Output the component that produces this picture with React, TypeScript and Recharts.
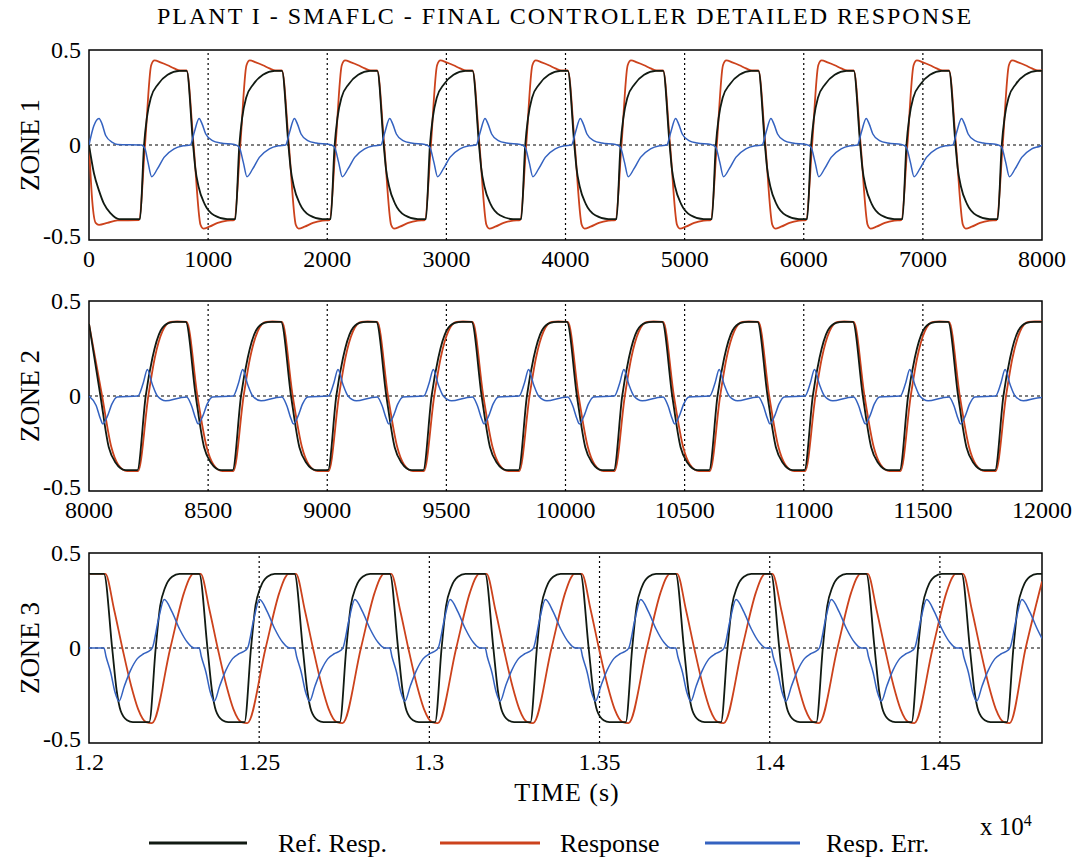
import { LineChart, Line, XAxis, YAxis, ReferenceLine, ReferenceArea } from "recharts";

type Pt = [number, number];

const serif = "Liberation Serif, Times New Roman, serif";
const C_REF = "#111a12";
const C_RESP = "#cc421c";
const C_ERR = "#3462c0";

// ---- ZONE 1 (0 .. 8000 s) ----
const z1Ticks = [0, 1000, 2000, 3000, 4000, 5000, 6000, 7000, 8000];
const z1Ref: Pt[] = [
  [0, 0], [42, -0.15], [84, -0.24], [126, -0.31], [182, -0.36], [252, -0.39], [428, -0.39], [462, 0], [485, 0.14], [520, 0.25], [580, 0.32], [660, 0.37], [760, 0.39],
  [820, 0.39], [874, 0], [892, -0.12], [920, -0.22], [970, -0.31], [1050, -0.37], [1160, -0.39], [1228, -0.39], [1262, 0], [1285, 0.14], [1320, 0.25], [1380, 0.32], [1460, 0.37], [1560, 0.39],
  [1620, 0.39], [1674, 0], [1692, -0.12], [1720, -0.22], [1770, -0.31], [1850, -0.37], [1960, -0.39], [2028, -0.39], [2062, 0], [2085, 0.14], [2120, 0.25], [2180, 0.32], [2260, 0.37], [2360, 0.39],
  [2420, 0.39], [2474, 0], [2492, -0.12], [2520, -0.22], [2570, -0.31], [2650, -0.37], [2760, -0.39], [2828, -0.39], [2862, 0], [2885, 0.14], [2920, 0.25], [2980, 0.32], [3060, 0.37], [3160, 0.39],
  [3220, 0.39], [3274, 0], [3292, -0.12], [3320, -0.22], [3370, -0.31], [3450, -0.37], [3560, -0.39], [3628, -0.39], [3662, 0], [3685, 0.14], [3720, 0.25], [3780, 0.32], [3860, 0.37], [3960, 0.39],
  [4020, 0.39], [4074, 0], [4092, -0.12], [4120, -0.22], [4170, -0.31], [4250, -0.37], [4360, -0.39], [4428, -0.39], [4462, 0], [4485, 0.14], [4520, 0.25], [4580, 0.32], [4660, 0.37], [4760, 0.39],
  [4820, 0.39], [4874, 0], [4892, -0.12], [4920, -0.22], [4970, -0.31], [5050, -0.37], [5160, -0.39], [5228, -0.39], [5262, 0], [5285, 0.14], [5320, 0.25], [5380, 0.32], [5460, 0.37], [5560, 0.39],
  [5620, 0.39], [5674, 0], [5692, -0.12], [5720, -0.22], [5770, -0.31], [5850, -0.37], [5960, -0.39], [6028, -0.39], [6062, 0], [6085, 0.14], [6120, 0.25], [6180, 0.32], [6260, 0.37], [6360, 0.39],
  [6420, 0.39], [6474, 0], [6492, -0.12], [6520, -0.22], [6570, -0.31], [6650, -0.37], [6760, -0.39], [6828, -0.39], [6862, 0], [6885, 0.14], [6920, 0.25], [6980, 0.32], [7060, 0.37], [7160, 0.39],
  [7220, 0.39], [7274, 0], [7292, -0.12], [7320, -0.22], [7370, -0.31], [7450, -0.37], [7560, -0.39], [7628, -0.39], [7662, 0], [7685, 0.14], [7720, 0.25], [7780, 0.32], [7860, 0.37], [7960, 0.39],
  [8000, 0.39],
];
const z1Resp: Pt[] = [
  [0, 0], [28, -0.3], [56, -0.41], [84, -0.42], [154, -0.41], [238, -0.397], [420, -0.395], [470, 0], [522, 0.42], [550, 0.445], [600, 0.435], [660, 0.42], [715, 0.403], [765, 0.392],
  [820, 0.392], [878, 0], [936, -0.42], [960, -0.44], [1010, -0.43], [1080, -0.41], [1160, -0.398], [1220, -0.395], [1270, 0], [1322, 0.42], [1350, 0.445], [1400, 0.435], [1460, 0.42], [1515, 0.403], [1565, 0.392],
  [1620, 0.392], [1678, 0], [1736, -0.42], [1760, -0.44], [1810, -0.43], [1880, -0.41], [1960, -0.398], [2020, -0.395], [2070, 0], [2122, 0.42], [2150, 0.445], [2200, 0.435], [2260, 0.42], [2315, 0.403], [2365, 0.392],
  [2420, 0.392], [2478, 0], [2536, -0.42], [2560, -0.44], [2610, -0.43], [2680, -0.41], [2760, -0.398], [2820, -0.395], [2870, 0], [2922, 0.42], [2950, 0.445], [3000, 0.435], [3060, 0.42], [3115, 0.403], [3165, 0.392],
  [3220, 0.392], [3278, 0], [3336, -0.42], [3360, -0.44], [3410, -0.43], [3480, -0.41], [3560, -0.398], [3620, -0.395], [3670, 0], [3722, 0.42], [3750, 0.445], [3800, 0.435], [3860, 0.42], [3915, 0.403], [3965, 0.392],
  [4020, 0.392], [4078, 0], [4136, -0.42], [4160, -0.44], [4210, -0.43], [4280, -0.41], [4360, -0.398], [4420, -0.395], [4470, 0], [4522, 0.42], [4550, 0.445], [4600, 0.435], [4660, 0.42], [4715, 0.403], [4765, 0.392],
  [4820, 0.392], [4878, 0], [4936, -0.42], [4960, -0.44], [5010, -0.43], [5080, -0.41], [5160, -0.398], [5220, -0.395], [5270, 0], [5322, 0.42], [5350, 0.445], [5400, 0.435], [5460, 0.42], [5515, 0.403], [5565, 0.392],
  [5620, 0.392], [5678, 0], [5736, -0.42], [5760, -0.44], [5810, -0.43], [5880, -0.41], [5960, -0.398], [6020, -0.395], [6070, 0], [6122, 0.42], [6150, 0.445], [6200, 0.435], [6260, 0.42], [6315, 0.403], [6365, 0.392],
  [6420, 0.392], [6478, 0], [6536, -0.42], [6560, -0.44], [6610, -0.43], [6680, -0.41], [6760, -0.398], [6820, -0.395], [6870, 0], [6922, 0.42], [6950, 0.445], [7000, 0.435], [7060, 0.42], [7115, 0.403], [7165, 0.392],
  [7220, 0.392], [7278, 0], [7336, -0.42], [7360, -0.44], [7410, -0.43], [7480, -0.41], [7560, -0.398], [7620, -0.395], [7670, 0], [7722, 0.42], [7750, 0.445], [7800, 0.435], [7860, 0.42], [7915, 0.403], [7965, 0.392],
  [8000, 0.392],
];
const z1Err: Pt[] = [
  [0, 0], [40, 0.1], [84, 0.14], [110, 0.11], [140, 0.05], [196, 0.014], [240, 0.003], [440, 0], [470, -0.02], [495, -0.09], [526, -0.167], [574, -0.126], [630, -0.065], [714, -0.02], [790, -0.004],
  [850, 0], [885, 0.07], [924, 0.14], [950, 0.11], [980, 0.058], [1036, 0.023], [1106, 0.01], [1220, 0.003], [1260, -0.01], [1295, -0.09], [1326, -0.167], [1374, -0.126], [1430, -0.065], [1514, -0.02], [1590, -0.004],
  [1650, 0], [1685, 0.07], [1724, 0.14], [1750, 0.11], [1780, 0.058], [1836, 0.023], [1906, 0.01], [2020, 0.003], [2060, -0.01], [2095, -0.09], [2126, -0.167], [2174, -0.126], [2230, -0.065], [2314, -0.02], [2390, -0.004],
  [2450, 0], [2485, 0.07], [2524, 0.14], [2550, 0.11], [2580, 0.058], [2636, 0.023], [2706, 0.01], [2820, 0.003], [2860, -0.01], [2895, -0.09], [2926, -0.167], [2974, -0.126], [3030, -0.065], [3114, -0.02], [3190, -0.004],
  [3250, 0], [3285, 0.07], [3324, 0.14], [3350, 0.11], [3380, 0.058], [3436, 0.023], [3506, 0.01], [3620, 0.003], [3660, -0.01], [3695, -0.09], [3726, -0.167], [3774, -0.126], [3830, -0.065], [3914, -0.02], [3990, -0.004],
  [4050, 0], [4085, 0.07], [4124, 0.14], [4150, 0.11], [4180, 0.058], [4236, 0.023], [4306, 0.01], [4420, 0.003], [4460, -0.01], [4495, -0.09], [4526, -0.167], [4574, -0.126], [4630, -0.065], [4714, -0.02], [4790, -0.004],
  [4850, 0], [4885, 0.07], [4924, 0.14], [4950, 0.11], [4980, 0.058], [5036, 0.023], [5106, 0.01], [5220, 0.003], [5260, -0.01], [5295, -0.09], [5326, -0.167], [5374, -0.126], [5430, -0.065], [5514, -0.02], [5590, -0.004],
  [5650, 0], [5685, 0.07], [5724, 0.14], [5750, 0.11], [5780, 0.058], [5836, 0.023], [5906, 0.01], [6020, 0.003], [6060, -0.01], [6095, -0.09], [6126, -0.167], [6174, -0.126], [6230, -0.065], [6314, -0.02], [6390, -0.004],
  [6450, 0], [6485, 0.07], [6524, 0.14], [6550, 0.11], [6580, 0.058], [6636, 0.023], [6706, 0.01], [6820, 0.003], [6860, -0.01], [6895, -0.09], [6926, -0.167], [6974, -0.126], [7030, -0.065], [7114, -0.02], [7190, -0.004],
  [7250, 0], [7285, 0.07], [7324, 0.14], [7350, 0.11], [7380, 0.058], [7436, 0.023], [7506, 0.01], [7620, 0.003], [7660, -0.01], [7695, -0.09], [7726, -0.167], [7774, -0.126], [7830, -0.065], [7914, -0.02], [7990, -0.004],
  [8000, 0],
];

// ---- ZONE 2 (8000 .. 12000 s) ----
const z2Ticks = [8000, 8500, 9000, 9500, 10000, 10500, 11000, 11500, 12000];
const z2Ref: Pt[] = [
  [8000, 0.38], [8048, 0], [8083, -0.27], [8111, -0.35], [8153, -0.39], [8203, -0.39], [8238, 0], [8266, 0.2], [8301, 0.345], [8336, 0.385], [8365, 0.39],
  [8406, 0.39], [8448, 0], [8483, -0.27], [8511, -0.35], [8553, -0.39], [8603, -0.39], [8638, 0], [8666, 0.2], [8701, 0.345], [8736, 0.385], [8765, 0.39],
  [8806, 0.39], [8848, 0], [8883, -0.27], [8911, -0.35], [8953, -0.39], [9003, -0.39], [9038, 0], [9066, 0.2], [9101, 0.345], [9136, 0.385], [9165, 0.39],
  [9206, 0.39], [9248, 0], [9283, -0.27], [9311, -0.35], [9353, -0.39], [9403, -0.39], [9438, 0], [9466, 0.2], [9501, 0.345], [9536, 0.385], [9565, 0.39],
  [9606, 0.39], [9648, 0], [9683, -0.27], [9711, -0.35], [9753, -0.39], [9803, -0.39], [9838, 0], [9866, 0.2], [9901, 0.345], [9936, 0.385], [9965, 0.39],
  [10006, 0.39], [10048, 0], [10083, -0.27], [10111, -0.35], [10153, -0.39], [10203, -0.39], [10238, 0], [10266, 0.2], [10301, 0.345], [10336, 0.385], [10365, 0.39],
  [10406, 0.39], [10448, 0], [10483, -0.27], [10511, -0.35], [10553, -0.39], [10603, -0.39], [10638, 0], [10666, 0.2], [10701, 0.345], [10736, 0.385], [10765, 0.39],
  [10806, 0.39], [10848, 0], [10883, -0.27], [10911, -0.35], [10953, -0.39], [11003, -0.39], [11038, 0], [11066, 0.2], [11101, 0.345], [11136, 0.385], [11165, 0.39],
  [11206, 0.39], [11248, 0], [11283, -0.27], [11311, -0.35], [11353, -0.39], [11403, -0.39], [11438, 0], [11466, 0.2], [11501, 0.345], [11536, 0.385], [11565, 0.39],
  [11606, 0.39], [11648, 0], [11683, -0.27], [11711, -0.35], [11753, -0.39], [11803, -0.39], [11838, 0], [11866, 0.2], [11901, 0.345], [11936, 0.385], [11965, 0.39],
  [12000, 0.39],
];
const z2Resp: Pt[] = [
  [8000, 0.38], [8055, 0], [8094, -0.27], [8122, -0.36], [8160, -0.395], [8206, -0.395], [8249, 0], [8276, 0.2], [8308, 0.34], [8343, 0.39], [8370, 0.392],
  [8410, 0.39], [8455, 0], [8494, -0.27], [8522, -0.36], [8560, -0.395], [8606, -0.395], [8649, 0], [8676, 0.2], [8708, 0.34], [8743, 0.39], [8770, 0.392],
  [8810, 0.39], [8855, 0], [8894, -0.27], [8922, -0.36], [8960, -0.395], [9006, -0.395], [9049, 0], [9076, 0.2], [9108, 0.34], [9143, 0.39], [9170, 0.392],
  [9210, 0.39], [9255, 0], [9294, -0.27], [9322, -0.36], [9360, -0.395], [9406, -0.395], [9449, 0], [9476, 0.2], [9508, 0.34], [9543, 0.39], [9570, 0.392],
  [9610, 0.39], [9655, 0], [9694, -0.27], [9722, -0.36], [9760, -0.395], [9806, -0.395], [9849, 0], [9876, 0.2], [9908, 0.34], [9943, 0.39], [9970, 0.392],
  [10010, 0.39], [10055, 0], [10094, -0.27], [10122, -0.36], [10160, -0.395], [10206, -0.395], [10249, 0], [10276, 0.2], [10308, 0.34], [10343, 0.39], [10370, 0.392],
  [10410, 0.39], [10455, 0], [10494, -0.27], [10522, -0.36], [10560, -0.395], [10606, -0.395], [10649, 0], [10676, 0.2], [10708, 0.34], [10743, 0.39], [10770, 0.392],
  [10810, 0.39], [10855, 0], [10894, -0.27], [10922, -0.36], [10960, -0.395], [11006, -0.395], [11049, 0], [11076, 0.2], [11108, 0.34], [11143, 0.39], [11170, 0.392],
  [11210, 0.39], [11255, 0], [11294, -0.27], [11322, -0.36], [11360, -0.395], [11406, -0.395], [11449, 0], [11476, 0.2], [11508, 0.34], [11543, 0.39], [11570, 0.392],
  [11610, 0.39], [11655, 0], [11694, -0.27], [11722, -0.36], [11760, -0.395], [11806, -0.395], [11849, 0], [11876, 0.2], [11908, 0.34], [11943, 0.39], [11970, 0.392],
  [12000, 0.392],
];
const z2Err: Pt[] = [
  [8000, 0], [8030, -0.05], [8048, -0.12], [8058, -0.147], [8076, -0.11], [8097, -0.04], [8118, -0.005], [8205, 0], [8228, 0.07], [8245, 0.14], [8266, 0.06], [8287, 0], [8322, -0.025], [8380, -0.01],
  [8410, -0.005], [8430, -0.05], [8448, -0.12], [8458, -0.147], [8476, -0.11], [8497, -0.04], [8518, -0.005], [8605, 0], [8628, 0.07], [8645, 0.14], [8666, 0.06], [8687, 0], [8722, -0.025], [8780, -0.01],
  [8810, -0.005], [8830, -0.05], [8848, -0.12], [8858, -0.147], [8876, -0.11], [8897, -0.04], [8918, -0.005], [9005, 0], [9028, 0.07], [9045, 0.14], [9066, 0.06], [9087, 0], [9122, -0.025], [9180, -0.01],
  [9210, -0.005], [9230, -0.05], [9248, -0.12], [9258, -0.147], [9276, -0.11], [9297, -0.04], [9318, -0.005], [9405, 0], [9428, 0.07], [9445, 0.14], [9466, 0.06], [9487, 0], [9522, -0.025], [9580, -0.01],
  [9610, -0.005], [9630, -0.05], [9648, -0.12], [9658, -0.147], [9676, -0.11], [9697, -0.04], [9718, -0.005], [9805, 0], [9828, 0.07], [9845, 0.14], [9866, 0.06], [9887, 0], [9922, -0.025], [9980, -0.01],
  [10010, -0.005], [10030, -0.05], [10048, -0.12], [10058, -0.147], [10076, -0.11], [10097, -0.04], [10118, -0.005], [10205, 0], [10228, 0.07], [10245, 0.14], [10266, 0.06], [10287, 0], [10322, -0.025], [10380, -0.01],
  [10410, -0.005], [10430, -0.05], [10448, -0.12], [10458, -0.147], [10476, -0.11], [10497, -0.04], [10518, -0.005], [10605, 0], [10628, 0.07], [10645, 0.14], [10666, 0.06], [10687, 0], [10722, -0.025], [10780, -0.01],
  [10810, -0.005], [10830, -0.05], [10848, -0.12], [10858, -0.147], [10876, -0.11], [10897, -0.04], [10918, -0.005], [11005, 0], [11028, 0.07], [11045, 0.14], [11066, 0.06], [11087, 0], [11122, -0.025], [11180, -0.01],
  [11210, -0.005], [11230, -0.05], [11248, -0.12], [11258, -0.147], [11276, -0.11], [11297, -0.04], [11318, -0.005], [11405, 0], [11428, 0.07], [11445, 0.14], [11466, 0.06], [11487, 0], [11522, -0.025], [11580, -0.01],
  [11610, -0.005], [11630, -0.05], [11648, -0.12], [11658, -0.147], [11676, -0.11], [11697, -0.04], [11718, -0.005], [11805, 0], [11828, 0.07], [11845, 0.14], [11866, 0.06], [11887, 0], [11922, -0.025], [11980, -0.01],
  [12000, -0.008],
];

// ---- ZONE 3 (12000 .. 14800 s, axis shown x 10^4) ----
const z3Ticks = [12000, 12500, 13000, 13500, 14000, 14500];
const z3Ref: Pt[] = [
  [12000, 0.39],
  [12044, 0.39], [12068, 0], [12081, -0.22], [12093, -0.33], [12112, -0.38], [12129, -0.39], [12177, -0.39], [12196, 0], [12209, 0.22], [12224, 0.32], [12244, 0.375], [12266, 0.39],
  [12324, 0.39], [12348, 0], [12361, -0.22], [12373, -0.33], [12392, -0.38], [12409, -0.39], [12457, -0.39], [12476, 0], [12489, 0.22], [12504, 0.32], [12524, 0.375], [12546, 0.39],
  [12604, 0.39], [12628, 0], [12641, -0.22], [12653, -0.33], [12672, -0.38], [12689, -0.39], [12737, -0.39], [12756, 0], [12769, 0.22], [12784, 0.32], [12804, 0.375], [12826, 0.39],
  [12884, 0.39], [12908, 0], [12921, -0.22], [12933, -0.33], [12952, -0.38], [12969, -0.39], [13017, -0.39], [13036, 0], [13049, 0.22], [13064, 0.32], [13084, 0.375], [13106, 0.39],
  [13164, 0.39], [13188, 0], [13201, -0.22], [13213, -0.33], [13232, -0.38], [13249, -0.39], [13297, -0.39], [13316, 0], [13329, 0.22], [13344, 0.32], [13364, 0.375], [13386, 0.39],
  [13444, 0.39], [13468, 0], [13481, -0.22], [13493, -0.33], [13512, -0.38], [13529, -0.39], [13577, -0.39], [13596, 0], [13609, 0.22], [13624, 0.32], [13644, 0.375], [13666, 0.39],
  [13724, 0.39], [13748, 0], [13761, -0.22], [13773, -0.33], [13792, -0.38], [13809, -0.39], [13857, -0.39], [13876, 0], [13889, 0.22], [13904, 0.32], [13924, 0.375], [13946, 0.39],
  [14004, 0.39], [14028, 0], [14041, -0.22], [14053, -0.33], [14072, -0.38], [14089, -0.39], [14137, -0.39], [14156, 0], [14169, 0.22], [14184, 0.32], [14204, 0.375], [14226, 0.39],
  [14284, 0.39], [14308, 0], [14321, -0.22], [14333, -0.33], [14352, -0.38], [14369, -0.39], [14417, -0.39], [14436, 0], [14449, 0.22], [14464, 0.32], [14484, 0.375], [14506, 0.39],
  [14564, 0.39], [14588, 0], [14601, -0.22], [14613, -0.33], [14632, -0.38], [14649, -0.39], [14697, -0.39], [14716, 0], [14729, 0.22], [14744, 0.32], [14764, 0.375], [14786, 0.39],
  [14800, 0.39],
];
const z3Resp: Pt[] = [
  [12000, 0.39],
  [12048, 0.39], [12074, 0.2], [12098, 0], [12124, -0.2], [12144, -0.32], [12168, -0.39], [12185, -0.395], [12239, 0], [12279, 0.29], [12296, 0.37], [12306, 0.39],
  [12328, 0.39], [12354, 0.2], [12378, 0], [12404, -0.2], [12424, -0.32], [12448, -0.39], [12465, -0.395], [12519, 0], [12559, 0.29], [12576, 0.37], [12586, 0.39],
  [12608, 0.39], [12634, 0.2], [12658, 0], [12684, -0.2], [12704, -0.32], [12728, -0.39], [12745, -0.395], [12799, 0], [12839, 0.29], [12856, 0.37], [12866, 0.39],
  [12888, 0.39], [12914, 0.2], [12938, 0], [12964, -0.2], [12984, -0.32], [13008, -0.39], [13025, -0.395], [13079, 0], [13119, 0.29], [13136, 0.37], [13146, 0.39],
  [13168, 0.39], [13194, 0.2], [13218, 0], [13244, -0.2], [13264, -0.32], [13288, -0.39], [13305, -0.395], [13359, 0], [13399, 0.29], [13416, 0.37], [13426, 0.39],
  [13448, 0.39], [13474, 0.2], [13498, 0], [13524, -0.2], [13544, -0.32], [13568, -0.39], [13585, -0.395], [13639, 0], [13679, 0.29], [13696, 0.37], [13706, 0.39],
  [13728, 0.39], [13754, 0.2], [13778, 0], [13804, -0.2], [13824, -0.32], [13848, -0.39], [13865, -0.395], [13919, 0], [13959, 0.29], [13976, 0.37], [13986, 0.39],
  [14008, 0.39], [14034, 0.2], [14058, 0], [14084, -0.2], [14104, -0.32], [14128, -0.39], [14145, -0.395], [14199, 0], [14239, 0.29], [14256, 0.37], [14266, 0.39],
  [14288, 0.39], [14314, 0.2], [14338, 0], [14364, -0.2], [14384, -0.32], [14408, -0.39], [14425, -0.395], [14479, 0], [14519, 0.29], [14536, 0.37], [14546, 0.39],
  [14568, 0.39], [14594, 0.2], [14618, 0], [14644, -0.2], [14664, -0.32], [14688, -0.39], [14705, -0.395], [14752, 0], [14800, 0.35],
];
const z3Err: Pt[] = [
  [12000, 0],
  [12044, 0], [12050, -0.045], [12064, -0.13], [12076, -0.23], [12088, -0.28], [12104, -0.2], [12122, -0.118], [12142, -0.056], [12161, -0.03], [12180, -0.012], [12186, 0], [12204, 0.15], [12221, 0.255], [12244, 0.19], [12266, 0.1], [12289, 0.03], [12309, 0],
  [12324, 0], [12330, -0.045], [12344, -0.13], [12356, -0.23], [12368, -0.28], [12384, -0.2], [12402, -0.118], [12422, -0.056], [12441, -0.03], [12460, -0.012], [12466, 0], [12484, 0.15], [12501, 0.255], [12524, 0.19], [12546, 0.1], [12569, 0.03], [12589, 0],
  [12604, 0], [12610, -0.045], [12624, -0.13], [12636, -0.23], [12648, -0.28], [12664, -0.2], [12682, -0.118], [12702, -0.056], [12721, -0.03], [12740, -0.012], [12746, 0], [12764, 0.15], [12781, 0.255], [12804, 0.19], [12826, 0.1], [12849, 0.03], [12869, 0],
  [12884, 0], [12890, -0.045], [12904, -0.13], [12916, -0.23], [12928, -0.28], [12944, -0.2], [12962, -0.118], [12982, -0.056], [13001, -0.03], [13020, -0.012], [13026, 0], [13044, 0.15], [13061, 0.255], [13084, 0.19], [13106, 0.1], [13129, 0.03], [13149, 0],
  [13164, 0], [13170, -0.045], [13184, -0.13], [13196, -0.23], [13208, -0.28], [13224, -0.2], [13242, -0.118], [13262, -0.056], [13281, -0.03], [13300, -0.012], [13306, 0], [13324, 0.15], [13341, 0.255], [13364, 0.19], [13386, 0.1], [13409, 0.03], [13429, 0],
  [13444, 0], [13450, -0.045], [13464, -0.13], [13476, -0.23], [13488, -0.28], [13504, -0.2], [13522, -0.118], [13542, -0.056], [13561, -0.03], [13580, -0.012], [13586, 0], [13604, 0.15], [13621, 0.255], [13644, 0.19], [13666, 0.1], [13689, 0.03], [13709, 0],
  [13724, 0], [13730, -0.045], [13744, -0.13], [13756, -0.23], [13768, -0.28], [13784, -0.2], [13802, -0.118], [13822, -0.056], [13841, -0.03], [13860, -0.012], [13866, 0], [13884, 0.15], [13901, 0.255], [13924, 0.19], [13946, 0.1], [13969, 0.03], [13989, 0],
  [14004, 0], [14010, -0.045], [14024, -0.13], [14036, -0.23], [14048, -0.28], [14064, -0.2], [14082, -0.118], [14102, -0.056], [14121, -0.03], [14140, -0.012], [14146, 0], [14164, 0.15], [14181, 0.255], [14204, 0.19], [14226, 0.1], [14249, 0.03], [14269, 0],
  [14284, 0], [14290, -0.045], [14304, -0.13], [14316, -0.23], [14328, -0.28], [14344, -0.2], [14362, -0.118], [14382, -0.056], [14401, -0.03], [14420, -0.012], [14426, 0], [14444, 0.15], [14461, 0.255], [14484, 0.19], [14506, 0.1], [14529, 0.03], [14549, 0],
  [14564, 0], [14570, -0.045], [14584, -0.13], [14596, -0.23], [14608, -0.28], [14624, -0.2], [14642, -0.118], [14662, -0.056], [14681, -0.03], [14700, -0.012], [14706, 0], [14724, 0.15], [14741, 0.255], [14764, 0.19], [14786, 0.1],
  [14800, 0.05],
];

const yTicks = [-0.5, 0, 0.5];
const legendItems = [
  { name: "Ref. Resp.", color: C_REF, x1: 149, x2: 247, tx: 278 },
  { name: "Response", color: C_RESP, x1: 440, x2: 540, tx: 560 },
  { name: "Resp. Err.", color: C_ERR, x1: 705, x2: 800, tx: 826 },
];

const rows = (pts: Pt[]) => pts.map(([t, v]) => ({ t, v }));

interface PanelProps {
  plotTop: number;
  label: string;
  ticks: number[];
  domain: [number, number];
  fmt: (v: number) => string;
  refPts: Pt[];
  respPts: Pt[];
  errPts: Pt[];
}

function XTick(props: any) {
  const { x, y, payload, fmt } = props;
  return (
    <text x={x} y={y} dy={19} textAnchor="middle" fontSize={24} fontFamily={serif} fill="#000">
      {fmt(payload.value)}
    </text>
  );
}

function YTick(props: any) {
  const { x, y, payload } = props;
  // the bottom label sits a little high so it clears the first time label
  const dy = payload.value < 0 ? 4 : 8;
  return (
    <text x={x} y={y} dy={dy} textAnchor="end" fontSize={24} fontFamily={serif} fill="#000">
      {String(payload.value)}
    </text>
  );
}

function Panel({ plotTop, label, ticks, domain, fmt, refPts, respPts, errPts }: PanelProps) {
  const inner = ticks.filter((t) => t > domain[0] && t < domain[1]);
  return (
    <>
      <div style={{ position: "absolute", left: 0, top: plotTop - 20 }}>
        <LineChart width={1089} height={255} margin={{ top: 20, right: 47, bottom: 0, left: 0 }}>
          <XAxis
            dataKey="t"
            type="number"
            domain={domain}
            ticks={ticks}
            interval={0}
            allowDataOverflow
            axisLine={false}
            tickLine={false}
            tickMargin={2}
            height={45}
            tick={(p: any) => <XTick {...p} fmt={fmt} />}
          />
          <YAxis
            type="number"
            domain={[-0.5, 0.5]}
            ticks={yTicks}
            interval={0}
            width={89}
            axisLine={false}
            tickLine={false}
            tick={(p: any) => <YTick {...p} />}
          />
          {inner.map((x) => (
            <ReferenceLine key={x} x={x} stroke="#000" strokeWidth={1.2} strokeDasharray="2 3" />
          ))}
          <ReferenceLine y={0} stroke="#000" strokeWidth={1.2} strokeDasharray="3 3" />
          <Line data={rows(respPts)} dataKey="v" type="monotone" stroke={C_RESP} strokeWidth={1.8} dot={false} isAnimationActive={false} />
          <Line data={rows(refPts)} dataKey="v" type="monotone" stroke={C_REF} strokeWidth={1.8} dot={false} isAnimationActive={false} />
          <Line data={rows(errPts)} dataKey="v" type="monotone" stroke={C_ERR} strokeWidth={1.5} dot={false} isAnimationActive={false} />
          <ReferenceArea x1={domain[0]} x2={domain[1]} y1={-0.5} y2={0.5} fill="none" stroke="#000" strokeWidth={1.5} />
        </LineChart>
      </div>
      <div
        style={{
          position: "absolute",
          left: 30,
          top: plotTop + 95,
          transform: "translate(-50%, -50%) rotate(-90deg)",
          fontSize: 27,
          whiteSpace: "nowrap",
        }}
      >
        {label}
      </div>
    </>
  );
}

export default function App() {
  return (
    <div style={{ position: "absolute", left: 0, top: 0, width: 1089, height: 861, background: "#fff", fontFamily: serif }}>
      <div
        style={{
          position: "absolute",
          left: 565,
          top: 3,
          transform: "translateX(-50%)",
          fontSize: 24,
          letterSpacing: 2,
          whiteSpace: "nowrap",
        }}
      >
        PLANT I - SMAFLC - FINAL CONTROLLER DETAILED RESPONSE
      </div>
      <Panel plotTop={50} label="ZONE 1" ticks={z1Ticks} domain={[0, 8000]} fmt={(v) => String(v)} refPts={z1Ref} respPts={z1Resp} errPts={z1Err} />
      <Panel plotTop={301} label="ZONE 2" ticks={z2Ticks} domain={[8000, 12000]} fmt={(v) => String(v)} refPts={z2Ref} respPts={z2Resp} errPts={z2Err} />
      <Panel plotTop={553} label="ZONE 3" ticks={z3Ticks} domain={[12000, 14800]} fmt={(v) => String(v / 10000)} refPts={z3Ref} respPts={z3Resp} errPts={z3Err} />
      <div style={{ position: "absolute", left: 567, top: 778, transform: "translateX(-50%)", fontSize: 26, letterSpacing: 1, whiteSpace: "nowrap" }}>
        TIME (s)
      </div>
      <div style={{ position: "absolute", left: 980, top: 812, fontSize: 25, whiteSpace: "nowrap" }}>
        x 10<sup style={{ fontSize: 16 }}>4</sup>
      </div>
      <svg style={{ position: "absolute", left: 0, top: 826 }} width={1089} height={35}>
        {legendItems.map((it) => (
          <g key={it.name}>
            <line x1={it.x1} x2={it.x2} y1={17} y2={17} stroke={it.color} strokeWidth={3} />
            <text x={it.tx} y={26} fontSize={26} fontFamily={serif} fill="#000">
              {it.name}
            </text>
          </g>
        ))}
      </svg>
    </div>
  );
}
